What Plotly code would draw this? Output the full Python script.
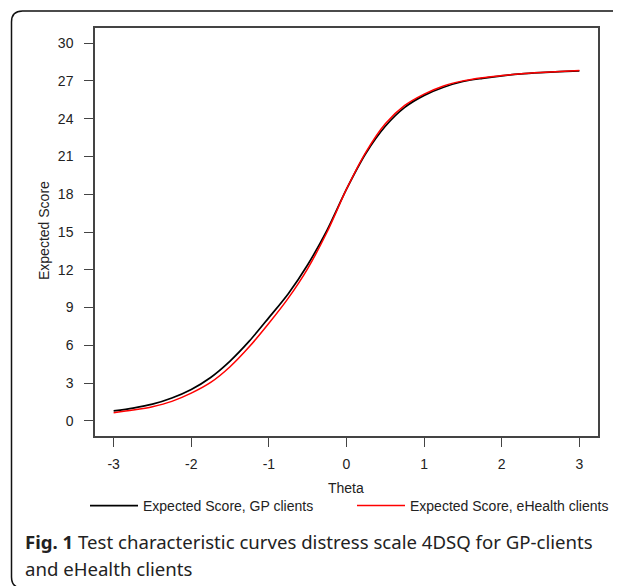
import plotly.graph_objects as go

theta = [-3, -2.75, -2.5, -2.25, -2, -1.75, -1.5, -1.25, -1, -0.75, -0.5, -0.25,
         0, 0.25, 0.5, 0.75, 1, 1.25, 1.5, 1.75, 2, 2.25, 2.5, 2.75, 3]
gp_clients = [0.79, 1.02, 1.33, 1.82, 2.5, 3.45, 4.75, 6.35, 8.2, 10.1, 12.4, 15.15,
              18.4, 21.25, 23.4, 24.9, 25.85, 26.5, 26.95, 27.2, 27.4, 27.55, 27.65, 27.73, 27.8]
ehealth_clients = [0.64, 0.86, 1.13, 1.55, 2.2, 3.05, 4.3, 5.9, 7.75, 9.75, 12.1, 15.0,
                   18.4, 21.35, 23.6, 25.05, 25.95, 26.6, 27.0, 27.25, 27.42, 27.57, 27.67, 27.75, 27.82]
x_ticks = [-3, -2, -1, 0, 1, 2, 3]
y_ticks = [0, 3, 6, 9, 12, 15, 18, 21, 24, 27, 30]
series_names = ["Expected Score, GP clients", "Expected Score, eHealth clients"]

# page has an 8px body margin; figure coordinates = reference pixels - 8
OX, OY = 8, 8
W, H = 613, 578
L, R, T, B = 95 - OX, 598 - OX, 28 - OY, 436 - OY  # plot area box in figure pixels
pw, ph = R - L, B - T


def px(x):
    """reference-page pixel x -> paper fraction"""
    return (x - OX - L) / pw


def py(y):
    """reference-page pixel y -> paper fraction"""
    return (B - (y - OY)) / ph


fig = go.Figure()
fig.add_trace(go.Scatter(x=theta, y=gp_clients, mode="lines", name=series_names[0],
                         line=dict(color="black", width=1.7, shape="spline", smoothing=0.8)))
fig.add_trace(go.Scatter(x=theta, y=ehealth_clients, mode="lines", name=series_names[1],
                         line=dict(color="#ff0000", width=1.5, shape="spline", smoothing=0.8)))

axis_font = dict(family="Liberation Sans, Arial, sans-serif", size=14, color="#222")
fig.update_xaxes(range=[-3.24, 3.24], tickvals=x_ticks, ticktext=[str(v) for v in x_ticks],
                 showgrid=False, zeroline=False, showline=True, mirror=True,
                 linecolor="#444", linewidth=1.5, ticks="outside", ticklen=9,
                 tickcolor="#444", tickwidth=1.3, tickfont=axis_font, ticklabelstandoff=5)
fig.update_yaxes(range=[-1.2, 31.2], tickvals=y_ticks, ticktext=[str(v) for v in y_ticks],
                 showgrid=False, zeroline=False, showline=True, mirror=True,
                 linecolor="#444", linewidth=1.5, ticks="outside", ticklen=9,
                 tickcolor="#444", tickwidth=1.3, tickfont=axis_font, ticklabelstandoff=8)

# axis titles
fig.add_annotation(x=px(346), y=py(488), xref="paper", yref="paper", text="Theta",
                   showarrow=False, font=axis_font, xanchor="center", yanchor="middle")
fig.add_annotation(x=px(44), y=py(231), xref="paper", yref="paper", text="Expected Score",
                   showarrow=False, font=axis_font, textangle=-90,
                   xanchor="center", yanchor="middle")

# outer rounded frame
x0, xr = px(11.5), px(660)
yt, yb = py(11), py(588)
rx, ry = 11 / pw, 11 / ph
path = (f"M {xr},{yb} L {x0+rx},{yb} Q {x0},{yb} {x0},{yb+ry} "
        f"L {x0},{yt-ry} Q {x0},{yt} {x0+rx},{yt} L {xr},{yt}")
fig.add_shape(type="path", path=path, xref="paper", yref="paper",
              line=dict(color="#111", width=1.5))

cap_font = dict(family="Noto Sans, Open Sans, sans-serif", size=18.6, color="#222")
fig.add_annotation(x=px(23), y=py(541), xref="paper", yref="paper", xanchor="left",
                   yanchor="middle", showarrow=False, font=cap_font, align="left",
                   text="<b>Fig. 1</b> Test characteristic curves distress scale 4DSQ for GP-clients")
fig.add_annotation(x=px(23), y=py(568), xref="paper", yref="paper", xanchor="left",
                   yanchor="middle", showarrow=False, font=cap_font, align="left",
                   text="and eHealth clients")

fig.update_layout(
    width=W, height=H,
    margin=dict(l=L, r=W - R, t=T, b=H - B, autoexpand=False),
    paper_bgcolor="white", plot_bgcolor="white",
    showlegend=True,
    legend=dict(orientation="h", x=px(85), y=py(506), xanchor="left", yanchor="middle",
                font=dict(family="Liberation Sans, Arial, sans-serif", size=14, color="#222"),
                entrywidth=204, entrywidthmode="pixels", itemwidth=48,
                bgcolor="rgba(0,0,0,0)", borderwidth=0),
)

fig.write_html("out.html")
